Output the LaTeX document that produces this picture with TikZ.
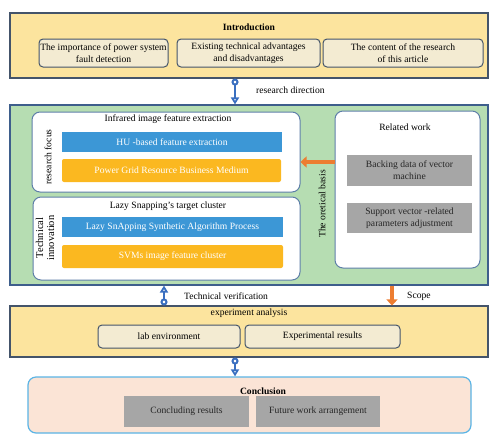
\documentclass[tikz,border=0pt]{standalone}
\usepackage{fontspec}
\setmainfont{Liberation Serif}
\usetikzlibrary{arrows.meta}
\definecolor{yel}{HTML}{FCE49E}
\definecolor{beige}{HTML}{F3EBD2}
\definecolor{edge}{HTML}{44546A}
\definecolor{grn}{HTML}{B6DDB2}
\definecolor{gedge}{HTML}{3E5E8C}
\definecolor{wedge}{HTML}{5E7FA8}
\definecolor{bbar}{HTML}{3C97D6}
\definecolor{ybar}{HTML}{FBB820}
\definecolor{gbox}{HTML}{A6A6A6}
\definecolor{pink}{HTML}{FBE4D6}
\definecolor{cedge}{HTML}{5BB4E5}
\definecolor{conn}{HTML}{3A6FC0}
\definecolor{orng}{HTML}{ED7D31}
\begin{document}
\begin{tikzpicture}[x=1pt,y=-1pt,
  every node/.style={font=\fontsize{9.6}{12}\selectfont, inner sep=0pt, align=center},
  sz/.style 2 args={minimum width=#1pt, minimum height=#2pt},
  panel/.style={draw=edge, line width=1.1pt},
  sub/.style={draw=edge, line width=1pt, fill=beige, rounded corners=4pt},
  wbox/.style={draw=wedge, line width=1pt, fill=white, rounded corners=8pt},
  bluebar/.style={fill=bbar, text=white},
  yelbar/.style={fill=ybar, text=white, rounded corners=2pt},
  graybox/.style={fill=gbox, text=black!85},
  bconn/.style={draw=conn, line width=2pt, {Circle[open,fill=white,length=7pt,width=7pt]}-{Triangle[open,fill=white,length=7pt,width=8pt]}},
  oarrow/.style={draw=orng, line width=4.5pt, -{Triangle[length=6pt,width=11pt]}}
]
\useasboundingbox (0,0) rectangle (500,445);

% Introduction
\node[panel, fill=yel, sz={478}{65}] (intro) at (249,45.5) {};
\node[font=\fontsize{9.6}{12}\selectfont\bfseries] (introt) at (249,27) {Introduction};
\node[sub, sz={129}{28}] (i1) at (103.5,53) {The importance of power system\\fault detection};
\node[sub, sz={143}{28}] (i2) at (248.5,53) {Existing technical advantages\\and disadvantages};
\node[sub, sz={160}{28}] (i3) at (403,53) {The content of the research\\of this article};

% Green panel
\node[draw=gedge, line width=1.1pt, fill=grn, sz={478}{180}] (green) at (249,195) {};

\node[wbox, sz={268}{80}] (lu) at (166,152) {};
\node (lut) at (168,119) {Infrared image feature extraction};
\node[bluebar, sz={220}{20}] (b1) at (172,142) {HU -based feature extraction};
\node[yelbar, sz={219}{23}] (y1) at (171.5,170.5) {Power Grid Resource Business Medium};
\node[rotate=90] (rf) at (48,157) {research focus};

\node[wbox, sz={267}{83}] (ll) at (166.5,238.5) {};
\node (llt) at (168,206) {Lazy Snapping's target cluster};
\node[bluebar, sz={221}{20}] (b2) at (172.5,227) {Lazy SnApping Synthetic Algorithm Process};
\node[yelbar, sz={221}{23}] (y2) at (172.5,256.5) {SVMs image feature cluster};
\node[rotate=90, font=\fontsize{10.5}{11}\selectfont] (ti) at (45,238) {Technical\\innovation};

\node[wbox, sz={145}{157}] (rw) at (407.5,189.5) {};
\node (rwt) at (405,127) {Related work};
\node[graybox, sz={125}{31}] (g1) at (409.5,170.5) {Backing data of vector\\machine};
\node[graybox, sz={125}{30}] (g2) at (409.5,218) {Support vector -related\\parameters adjustment};
\node[rotate=90] (tb) at (322,204) {The oretical basis};

\draw[oarrow] ([yshift=27.5pt]rw.west) -- ([yshift=27.5pt]rw.west -| lu.east);

% Experiment analysis
\node[panel, fill=yel, sz={478}{51}] (exp) at (249,331.5) {};
\node (expt) at (249,313) {experiment analysis};
\node[sub, sz={142}{23}] (e1) at (169,336.5) {lab environment};
\node[sub, sz={155}{23}] (e2) at (322.5,336.5) {Experimental results};

% Conclusion
\node[draw=cedge, line width=1.2pt, fill=pink, rounded corners=8pt, sz={443}{56}] (concl) at (249.5,405) {};
\node[font=\fontsize{9.6}{12}\selectfont\bfseries] (conclt) at (263,391) {Conclusion};
\node[graybox, sz={125}{31}] (c1) at (186.5,411.5) {Concluding results};
\node[graybox, sz={124}{31}] (c2) at (318,411.5) {Future work arrangement};

% Connectors
\coordinate (xa) at (235,0);
\coordinate (xb) at (164,0);
\coordinate (xc) at (392,0);
\draw[bconn] (intro.south -| xa) -- (green.north -| xa);
\node[anchor=west] (rd) at (256,90) {research direction};
\draw[bconn] (exp.north -| xb) -- (green.south -| xb);
\node[anchor=west] (tv) at (184,296) {Technical verification};
\draw[oarrow] (green.south -| xc) -- (exp.north -| xc);
\node[anchor=west] (sc) at (407,296) {Scope};
\draw[bconn] (exp.south -| xa) -- (concl.north -| xa);
\end{tikzpicture}
\end{document}
